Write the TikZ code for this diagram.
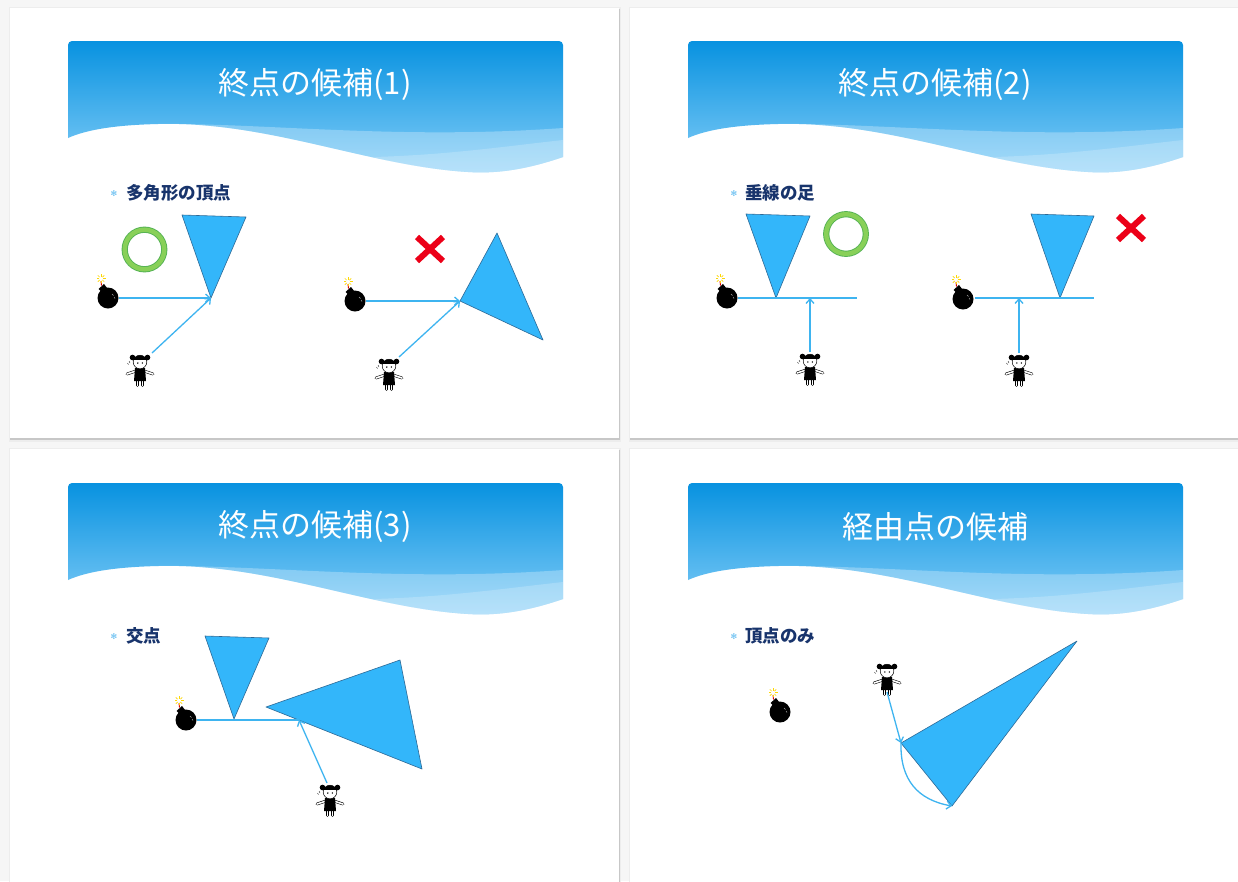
\documentclass[tikz,border=0pt]{standalone}
\usepackage{fontspec}
\setmainfont{Noto Sans CJK JP}
\newfontfamily\symfont{DejaVu Sans}
\usetikzlibrary{arrows.meta}

\definecolor{pagebg}{RGB}{246,246,246}
\definecolor{bannertop}{RGB}{8,146,224}
\definecolor{bannerbot}{RGB}{132,206,248}
\definecolor{polyfill}{RGB}{51,182,250}
\definecolor{polyedge}{RGB}{45,105,150}
\definecolor{pathblue}{RGB}{62,180,240}
\definecolor{navy}{RGB}{24,52,108}
\definecolor{bulletblue}{RGB}{90,185,240}
\definecolor{ringgreen}{RGB}{136,208,88}
\definecolor{ringedge}{RGB}{84,178,84}
\definecolor{crossred}{RGB}{236,0,24}

\tikzset{
  poly/.style={fill=polyfill, draw=polyedge, line width=0.6pt, line join=round},
  route/.style={draw=pathblue, line width=1.3pt, -{Straight Barb[length=4.5pt,width=8pt]}},
  guide/.style={draw=pathblue, line width=1.3pt},
  heading/.style={text=white, font=\fontsize{31}{31}\selectfont, inner sep=0pt},
  itemtext/.style={text=navy, font=\bfseries\fontsize{17.5}{17.5}\selectfont, anchor=west, inner sep=0pt},
  itemmark/.style={text=bulletblue, font=\symfont\fontsize{8}{8}\selectfont, inner sep=0pt},
  % slide with a soft shadow
  pics/slide/.style={code={
    \fill[black!7] (-1,-1) rectangle (610.5,#1+3.5);
    \fill[black!22] (0,1) rectangle (609.5,#1+2);
    \fill[white] (0,0) rectangle (609,#1);
  }},
  pics/slide/.default=430,
  % title banner with wave
  pics/banner/.style={code={
    \shade[top color=bannertop, bottom color=bannerbot]
      (0,97) -- (0,4) arc[start angle=180,end angle=270,radius=4]
      -- (491,0) arc[start angle=270,end angle=360,radius=4]
      -- (495,116) .. controls (460,128) and (430,133) .. (400,131)
      .. controls (300,125) and (200,80) .. (90,83)
      .. controls (50,84) and (20,88) .. (0,97) -- cycle;
    \fill[white, opacity=0.28]
      (90,83) .. controls (200,82) and (330,99) .. (495,87)
      -- (495,116) .. controls (460,128) and (430,133) .. (400,131)
      .. controls (300,125) and (200,80) .. (90,83) -- cycle;
    \fill[white, opacity=0.2]
      (305,116) .. controls (380,114) and (440,105) .. (495,99)
      -- (495,116) .. controls (460,128) and (430,133) .. (400,131)
      .. controls (360,128) and (330,123) .. (305,116) -- cycle;
  }},
  % bomb with a lit fuse
  pics/bomb/.style={code={
    \fill[black] (0,0) circle (10.5);
    \fill[black] (-9.5,-9) -- (-4,-14) -- (-0.5,-9.5) -- (-5,-5) -- cycle;
    \draw[red!85!black, line width=0.9pt] (-6.5,-12.5) -- (-7,-17);
    \foreach \a in {0,45,...,315}
      \draw[yellow!75!orange, line width=0.7pt] (-7,-19.5) ++(\a:2) -- ++(\a:2.5);
    \draw[gray!70, line width=0.5pt] (4,-4) -- (5.5,-2.5) (6,-1) -- (7,0.5);
  }},
  % little girl
  pics/girl/.style={code={
    \foreach \s in {-1,1} {
      \draw[black, line width=2.8pt, line cap=round] (\s*4,3) -- (\s*13,6);
      \draw[white, line width=1.6pt, line cap=round] (\s*4,3) -- (\s*13,6);
      \draw[black, line width=2.8pt, line cap=round] (\s*2.5,12) -- (\s*2.5,17.5);
      \draw[white, line width=1.6pt, line cap=round] (\s*2.5,12) -- (\s*2.5,17.5);
    }
    \fill[black] (-5,0) -- (5,0) -- (6,13) -- (-6,13) -- cycle;
    \draw[black, fill=white, line width=0.5pt] (0,-6) circle (6.8);
    \begin{scope}
      \clip (0,-6) circle (6.8);
      \fill[black] (-8,-14) rectangle (8,-8.5);
    \end{scope}
    \fill[black] (-7.5,-10.5) circle (2.8) (7.5,-10.5) circle (2.8);
    \fill[black] (-2.2,-5) circle (0.8) (2.4,-5) circle (0.8);
    \draw[black, line width=0.4pt] (-11,-7) -- (-10,-5) (-12.5,-5) -- (-11.5,-3.5);
  }},
  pics/okring/.style={code={
    \draw[ringedge, line width=6.2pt] (0,0) circle (19.8);
    \draw[ringgreen, line width=4.4pt] (0,0) circle (19.8);
  }},
  pics/ngcross/.style={code={
    \draw[crossred, line width=6pt] (-13,-12) -- (13,12) (13,-12) -- (-13,12);
  }}
}

\begin{document}
\begin{tikzpicture}[x=1pt,y=-1pt]
\useasboundingbox (0,0) rectangle (1238,881);
\fill[pagebg] (0,0) rectangle (1238,881);

% four slides
\pic at (10,8) {slide};
\pic at (630,8) {slide};
\pic at (10,449) {slide=440};
\pic at (630,449) {slide=440};

% banners and titles
\pic at (68,41) {banner};
\pic at (688,41) {banner};
\pic at (68,483) {banner};
\pic at (688,483) {banner};
\node[heading] (title1) at (315,85) {終点の候補(1)};
\node[heading] (title2) at (935,85) {終点の候補(2)};
\node[heading] (title3) at (315,527) {終点の候補(3)};
\node[heading] (title4) at (935,527) {経由点の候補};

% bullet items
\node[itemmark] (mark1) at (114,194) {✻};
\node[itemtext] (item1) at (126,193) {多角形の頂点};
\node[itemmark] (mark2) at (734,194) {✻};
\node[itemtext] (item2) at (745,193) {垂線の足};
\node[itemmark] (mark3) at (114,637) {✻};
\node[itemtext] (item3) at (126,636) {交点};
\node[itemmark] (mark4) at (734,637) {✻};
\node[itemtext] (item4) at (745,636) {頂点のみ};

% ---- slide 1: polygon vertices ----
\draw[poly] (182,215) -- (246,217) -- (211,298) -- cycle;
\coordinate (v1) at (211,298);
\pic at (144.5,249.5) {okring};
\pic (bombA) at (108,298) {bomb};
\pic (girlA) at (140,368) {girl};
\coordinate (bA) at (119,298);
\coordinate (gA) at (152,353);
\draw[route] (bA) -- (v1);
\draw[route] (gA) -- (v1);

\draw[poly] (497,233) -- (460,301) -- (543,340) -- cycle;
\coordinate (v2) at (460,301);
\pic at (430,249) {ngcross};
\pic (bombB) at (355,301) {bomb};
\pic (girlB) at (389,372) {girl};
\coordinate (bB) at (366,301);
\coordinate (gB) at (399,357);
\draw[route] (bB) -- (v2);
\draw[route] (gB) -- (v2);

% ---- slide 2: foot of perpendicular ----
\draw[poly] (746,214) -- (810,216) -- (776,298) -- cycle;
\pic at (846,234) {okring};
\pic (bombC) at (727,298) {bomb};
\pic (girlC) at (810,367) {girl};
\coordinate (bC) at (738,298);
\coordinate (eC) at (857,298);
\coordinate (fC) at (810,298);
\coordinate (gC) at (810,352);
\draw[guide] (bC) -- (eC);
\draw[route] (gC) -- (fC);

\draw[poly] (1031,214) -- (1094,216) -- (1060,298) -- cycle;
\pic at (1131,228) {ngcross};
\pic (bombD) at (963,299) {bomb};
\pic (girlD) at (1019,368) {girl};
\coordinate (bD) at (975,298);
\coordinate (eD) at (1094,298);
\coordinate (fD) at (1019,298);
\coordinate (gD) at (1019,353);
\draw[guide] (bD) -- (eD);
\draw[route] (gD) -- (fD);

% ---- slide 3: intersection ----
\draw[poly] (205,636) -- (269,638) -- (234,719) -- cycle;
\draw[poly] (266,707) -- (400,660) -- (422,769) -- cycle;
\pic (bombE) at (186,720) {bomb};
\pic (girlE) at (330,798) {girl};
\coordinate (bE) at (197,720);
\coordinate (xE) at (299,720);
\coordinate (gE) at (327,783);
\draw[guide] (bE) -- (xE);
\draw[route] (gE) -- (xE);

% ---- slide 4: via points ----
\draw[poly] (1077,641) -- (901,743) -- (952,806) -- cycle;
\pic (bombF) at (780,712) {bomb};
\pic (girlF) at (887,677) {girl};
\coordinate (gF) at (887,692);
\coordinate (pF) at (901,743);
\coordinate (qF) at (952,806);
\draw[route] (gF) -- (pF);
\draw[route] (pF) .. controls (900,780) and (918,800) .. (qF);
\end{tikzpicture}
\end{document}
